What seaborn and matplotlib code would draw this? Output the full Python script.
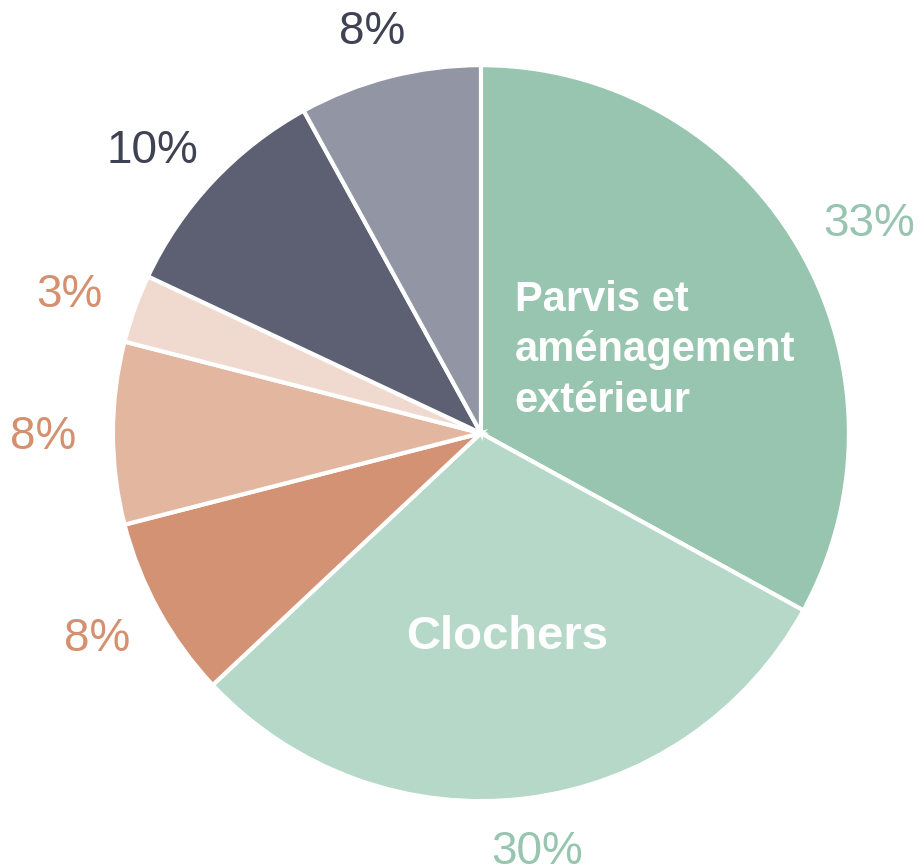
import numpy as np
import matplotlib
matplotlib.use("Agg")
import matplotlib.pyplot as plt
import seaborn as sns

# data, clockwise from 12 o'clock
shares = [33, 30, 8, 8, 3, 10, 8]
inner_labels = ["Parvis et\naménagement\nextérieur", "Clochers", "", "", "", "", ""]

slice_colors = ["#97C5B0", "#B5D8C8", "#D49274", "#E3B6A0", "#F0DAD0", "#5C6072", "#9195A4"]
label_colors = ["#97C5B0", "#97C5B0", "#D4906F", "#D4906F", "#D4906F", "#3F4252", "#3F4252"]

sns.set_theme(style="white")
plt.rcParams['font.family'] = ['Liberation Sans', 'DejaVu Sans']

fig = plt.figure(figsize=(9.24, 8.67), dpi=100)
ax = fig.add_axes([0, 0, 1, 1])

wedges, texts, autotexts = ax.pie(
    shares, colors=slice_colors, startangle=90, counterclock=False,
    autopct=lambda p: f"{p:.0f}%", pctdistance=1.10,
    wedgeprops=dict(edgecolor="white", linewidth=3),
    textprops=dict(fontsize=33),
)
ax.set_xlim(-1.307, 1.204)
ax.set_ylim(-1.179, 1.177)
ax.set_aspect("equal")
ax.axis("off")

# push each percent label outward so its box sits just outside the pie (office-style)
fig.canvas.draw()
renderer = fig.canvas.get_renderer()
inv = ax.transData.inverted()
for w, t, c in zip(wedges, autotexts, label_colors):
    t.set_color(c)
    ang = np.deg2rad((w.theta1 + w.theta2) / 2)
    dx, dy = np.cos(ang), np.sin(ang)
    bb = t.get_window_extent(renderer).transformed(inv)
    x, y = t.get_position()
    t.set_position((x + dx * bb.width / 2, y + dy * bb.height * 0.31 - 0.011))

# white labels inside the two big slices
ax.text(0.092, 0.225, inner_labels[0], color="white", fontsize=30, fontweight="bold",
        ha="left", va="center", linespacing=1.33)
ax.text(0.071, -0.554, inner_labels[1], color="white", fontsize=34, fontweight="bold",
        ha="center", va="center")

fig.savefig("out.png", dpi=100, facecolor="white")
